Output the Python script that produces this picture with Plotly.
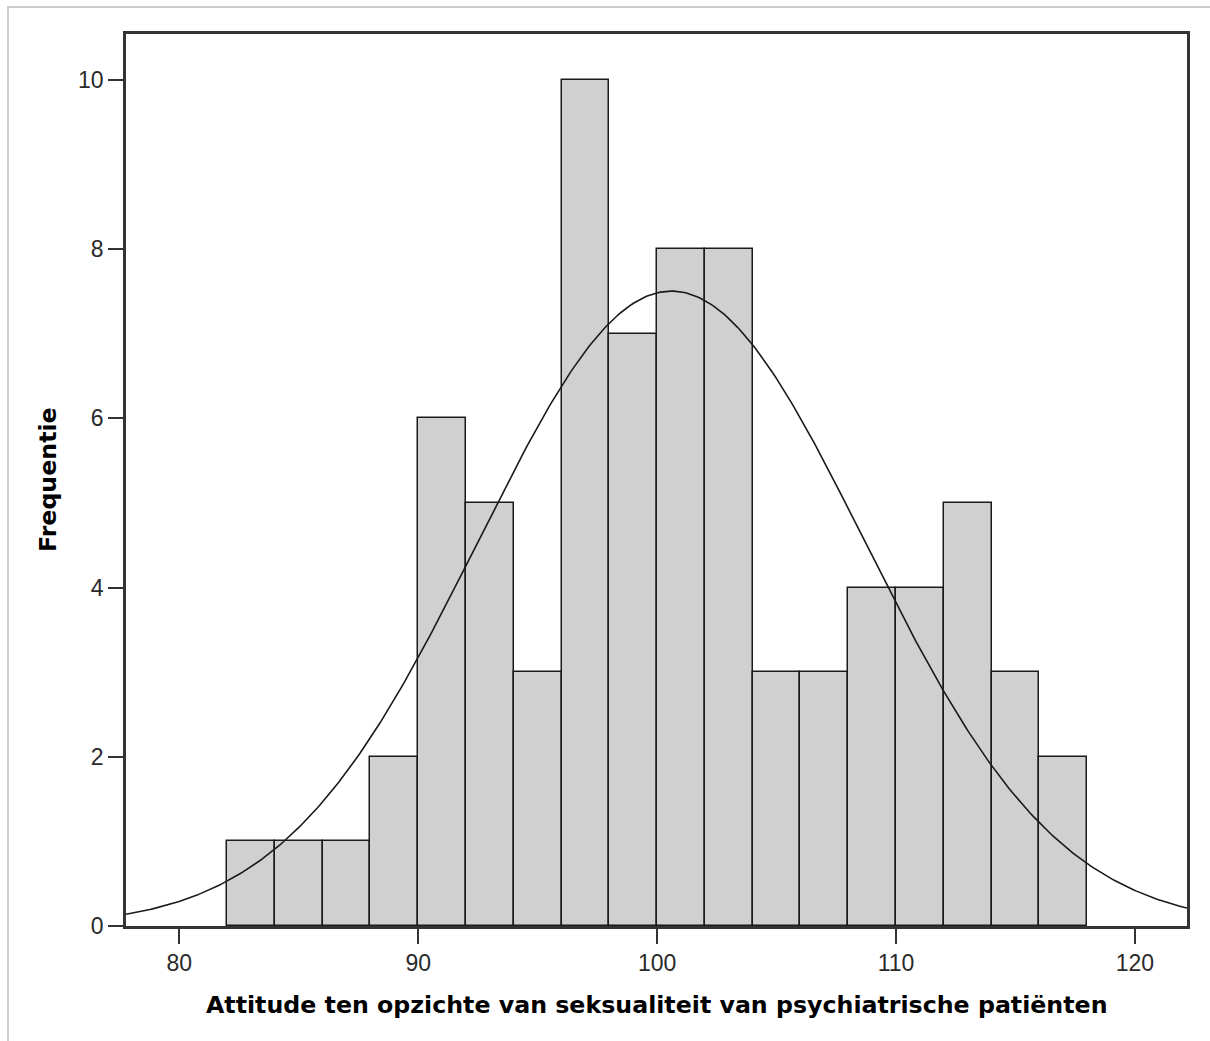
import numpy as np
import plotly.graph_objects as go

# Histogram data (bin width 2)
bin_starts = [82, 84, 86, 88, 90, 92, 94, 96, 98, 100, 102, 104, 106, 108, 110, 112, 114, 116]
counts = [1, 1, 1, 2, 6, 5, 3, 10, 7, 8, 8, 3, 3, 4, 4, 5, 3, 2]
bin_width = 2

# Normal curve parameters
curve_mean = 100.6
curve_sd = 8.08

x_ticks = [80, 90, 100, 110, 120]
y_ticks = [0, 2, 4, 6, 8, 10]

x_title = "Attitude ten opzichte van seksualiteit van psychiatrische patiënten"
y_title = "Frequentie"

x_range = [77.77, 122.18]
y_range = [0, 10.544]

n_total = sum(counts)
centers = [s + bin_width / 2 for s in bin_starts]

xs = np.linspace(x_range[0], x_range[1], 400)
ys = n_total * bin_width / (curve_sd * np.sqrt(2 * np.pi)) * np.exp(-0.5 * ((xs - curve_mean) / curve_sd) ** 2)

fig = go.Figure()
fig.add_trace(go.Bar(
    x=centers, y=counts, width=[bin_width] * len(centers),
    marker=dict(color="#d0d0d0", line=dict(color="#1a1a1a", width=1.5)),
    hoverinfo="x+y", showlegend=False,
))
fig.add_trace(go.Scatter(
    x=xs, y=ys, mode="lines", line=dict(color="#1a1a1a", width=1.6),
    hoverinfo="skip", showlegend=False,
))

axis_common = dict(
    showgrid=False, zeroline=False, showline=True, mirror=True,
    linecolor="#333333", linewidth=2.5,
    ticks="outside", ticklen=15, tickwidth=2, tickcolor="#333333",
    tickfont=dict(family="Liberation Sans, Arial, sans-serif", size=23, color="#2a2a2a"),
)

title_font = dict(family="DejaVu Sans, sans-serif", size=23.7, color="black", weight="bold")

fig.update_layout(
    width=1210, height=1041,
    margin=dict(l=126, r=23, t=34, b=115),
    paper_bgcolor="white", plot_bgcolor="white",
    bargap=0,
    xaxis=dict(range=x_range, tickvals=x_ticks, **axis_common),
    yaxis=dict(range=y_range, tickvals=y_ticks, **axis_common),
    annotations=[
        dict(text=x_title, xref="paper", yref="paper", x=0.5, y=0,
             xanchor="center", yanchor="middle", yshift=-79, showarrow=False,
             font=title_font),
        dict(text=y_title, xref="paper", yref="paper", x=0, y=0.5,
             xanchor="center", yanchor="middle", xshift=-78, textangle=-90, showarrow=False,
             font=title_font),
    ],
    shapes=[
        dict(type="rect", xref="paper", yref="paper",
             x0=(8 - 126) / 1061, x1=1.2, y0=-0.3, y1=(926 - 7) / 892,
             line=dict(color="#cccccc", width=2), fillcolor="rgba(0,0,0,0)", layer="below"),
    ],
)

fig.write_html("out.html", config={"displayModeBar": False},
               post_script="document.body.style.margin='0';document.body.style.overflow='hidden';")
